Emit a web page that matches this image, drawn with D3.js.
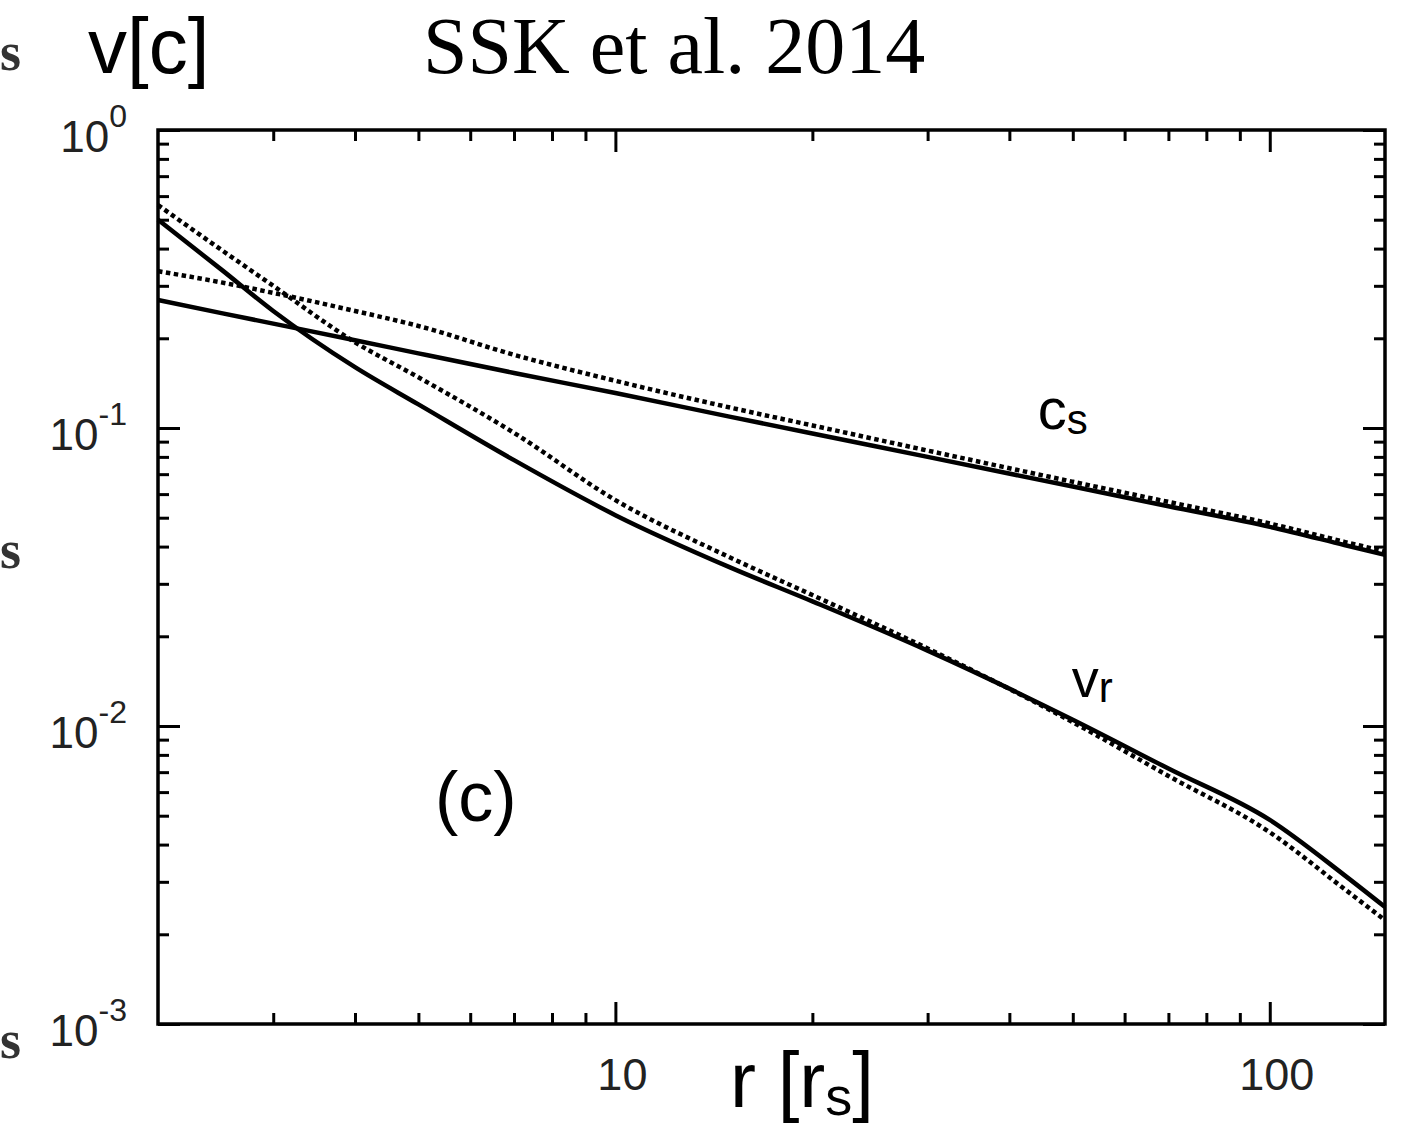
<!DOCTYPE html>
<html>
<head>
<meta charset="utf-8">
<script src="https://cdn.jsdelivr.net/npm/d3@7"></script>
<style>
  body { margin: 0; background: #fff; }
  svg { display: block; }
  .tick-label { font-family: "Liberation Sans", Arial, sans-serif; fill: #222; }
  .lbl { font-family: "Liberation Sans", Arial, sans-serif; fill: #000; }
</style>
</head>
<body>
<div id="chart"></div>
<script>
// radius in units of r_s
const radius = [2, 2.5, 3, 4, 5, 7, 10, 15, 20, 30, 50, 70, 100, 130, 150];
// sound speed, solid and dotted
const csSolid  = [0.269, 0.243, 0.224, 0.197, 0.178, 0.153, 0.131, 0.109, 0.0958, 0.080, 0.0636, 0.0546, 0.0466, 0.0405, 0.0375];
const csDotted = [0.336, 0.308, 0.284, 0.247, 0.220, 0.176, 0.144, 0.117, 0.102, 0.084, 0.066, 0.0565, 0.0478, 0.0415, 0.0385];
// radial velocity, solid and dotted
const vrSolid  = [0.50, 0.34, 0.247, 0.160, 0.120, 0.078, 0.051, 0.034, 0.0262, 0.0179, 0.0105, 0.0072, 0.00484, 0.00316, 0.00247];
const vrDotted = [0.56, 0.396, 0.300, 0.194, 0.148, 0.0963, 0.0573, 0.0367, 0.0275, 0.0182, 0.0103, 0.0068, 0.0044, 0.00284, 0.00223];

const xMajor = [10, 100];
const xMinor = [3, 4, 5, 6, 7, 8, 9, 20, 30, 40, 50, 60, 70, 80, 90];
const yMajor = [1e-3, 1e-2, 1e-1, 1];
const yExp = ['-3', '-2', '-1', '0'];
const yMinor = [];
[1e-3, 1e-2, 1e-1].forEach(function(d) {
    for (let k = 2; k <= 9; k++) yMinor.push(d * k);
});

const W = 1408, H = 1139;
let margin = {top: 130, right: 23, bottom: 115, left: 158};
let width = W - margin.left - margin.right;
let height = H - margin.top - margin.bottom;

let xScale = d3.scaleLog().domain([2, 150]).range([0, width]);
let yScale = d3.scaleLog().domain([1e-3, 1]).range([height, 0]);

let root = d3.select('#chart').append('svg')
    .attr('width', W)
    .attr('height', H);

let svg = root.append('g')
    .attr('transform', 'translate(' + margin.left + ',' + margin.top + ')');

// stray glyphs of the neighbouring panel at the left edge
[70, 568, 1058].forEach(function(yy) {
    root.append('text')
        .attr('x', 0).attr('y', yy)
        .style('font-family', '"Liberation Serif", serif')
        .style('font-size', '54px')
        .style('font-weight', 'bold')
        .style('fill', '#333')
        .text('s');
});

// ticks (inward on all sides)
function tickAxis(axisFn, scale, values, size, transform) {
    let g = svg.append('g')
        .attr('transform', transform || null)
        .call(axisFn(scale).tickValues(values).tickSizeInner(size).tickSizeOuter(0).tickFormat(''));
    g.select('.domain').remove();
    g.selectAll('line').attr('stroke', '#000').attr('stroke-width', 3);
}
tickAxis(d3.axisBottom, xScale, xMajor, -22, 'translate(0,' + height + ')');
tickAxis(d3.axisBottom, xScale, xMinor, -11, 'translate(0,' + height + ')');
tickAxis(d3.axisTop, xScale, xMajor, -22);
tickAxis(d3.axisTop, xScale, xMinor, -11);
tickAxis(d3.axisLeft, yScale, yMajor, -22);
tickAxis(d3.axisLeft, yScale, yMinor, -11);
tickAxis(d3.axisRight, yScale, yMajor, -22, 'translate(' + width + ',0)');
tickAxis(d3.axisRight, yScale, yMinor, -11, 'translate(' + width + ',0)');

// lines
let line = d3.line()
    .x(function(d) { return xScale(d[0]); })
    .y(function(d) { return yScale(d[1]); })
    .curve(d3.curveMonotoneX);

function series(vals) { return radius.map(function(r, i) { return [r, vals[i]]; }); }

svg.append('path').datum(series(csDotted))
    .attr('d', line).attr('fill', 'none').attr('stroke', '#000')
    .attr('stroke-width', 4.5).attr('stroke-dasharray', '4.5,3.5');
svg.append('path').datum(series(vrDotted))
    .attr('d', line).attr('fill', 'none').attr('stroke', '#000')
    .attr('stroke-width', 4.5).attr('stroke-dasharray', '4.5,3.5');
svg.append('path').datum(series(csSolid))
    .attr('d', line).attr('fill', 'none').attr('stroke', '#000').attr('stroke-width', 4.5);
svg.append('path').datum(series(vrSolid))
    .attr('d', line).attr('fill', 'none').attr('stroke', '#000').attr('stroke-width', 4.5);

// frame
svg.append('rect')
    .attr('x', 0).attr('y', 0).attr('width', width).attr('height', height)
    .attr('fill', 'none').attr('stroke', '#000').attr('stroke-width', 3.5);

// x tick labels
svg.selectAll('.xlab').data(xMajor).enter().append('text')
    .attr('class', 'tick-label')
    .attr('x', function(d) { return xScale(d) + 7; })
    .attr('y', height + 66)
    .attr('text-anchor', 'middle')
    .style('font-size', '45px')
    .text(function(d) { return d; });

// y tick labels with superscripts
svg.selectAll('.ylab').data(yMajor).enter().append('text')
    .attr('class', 'tick-label')
    .attr('x', -31)
    .attr('y', function(d) { return yScale(d) + 22; })
    .attr('text-anchor', 'end')
    .each(function(d, i) {
        let t = d3.select(this);
        t.append('tspan').style('font-size', '44px').text('10');
        t.append('tspan').style('font-size', '32px').attr('dy', -25).text(yExp[i]);
    });

// axis titles
let xt = root.append('text').attr('class', 'lbl')
    .attr('x', 730).attr('y', 1107).style('font-size', '78px');
xt.append('tspan').text('r [r');
xt.append('tspan').style('font-size', '54px').attr('dy', 8).text('s');
xt.append('tspan').attr('dy', -8).text(']');

root.append('text').attr('class', 'lbl')
    .attr('x', 88).attr('y', 73).style('font-size', '78px').text('v[c]');

root.append('text')
    .attr('x', 423).attr('y', 73)
    .style('font-family', '"Liberation Serif", "Times New Roman", serif')
    .style('font-size', '80px')
    .text('SSK et al. 2014');

// curve labels
let cl = svg.append('text').attr('class', 'lbl')
    .attr('x', xScale(44.2)).attr('y', yScale(0.099)).style('font-size', '58px');
cl.append('tspan').text('c');
cl.append('tspan').style('font-size', '42px').attr('dy', 5).text('s');

let vl = svg.append('text').attr('class', 'lbl')
    .attr('x', xScale(49.8)).attr('y', yScale(0.0125)).style('font-size', '54px');
vl.append('tspan').text('v');
vl.append('tspan').style('font-size', '42px').attr('dy', 5).text('r');

svg.append('text').attr('class', 'lbl')
    .attr('x', xScale(5.3)).attr('y', yScale(0.0048))
    .style('font-size', '70px').text('(c)');
</script>
</body>
</html>
